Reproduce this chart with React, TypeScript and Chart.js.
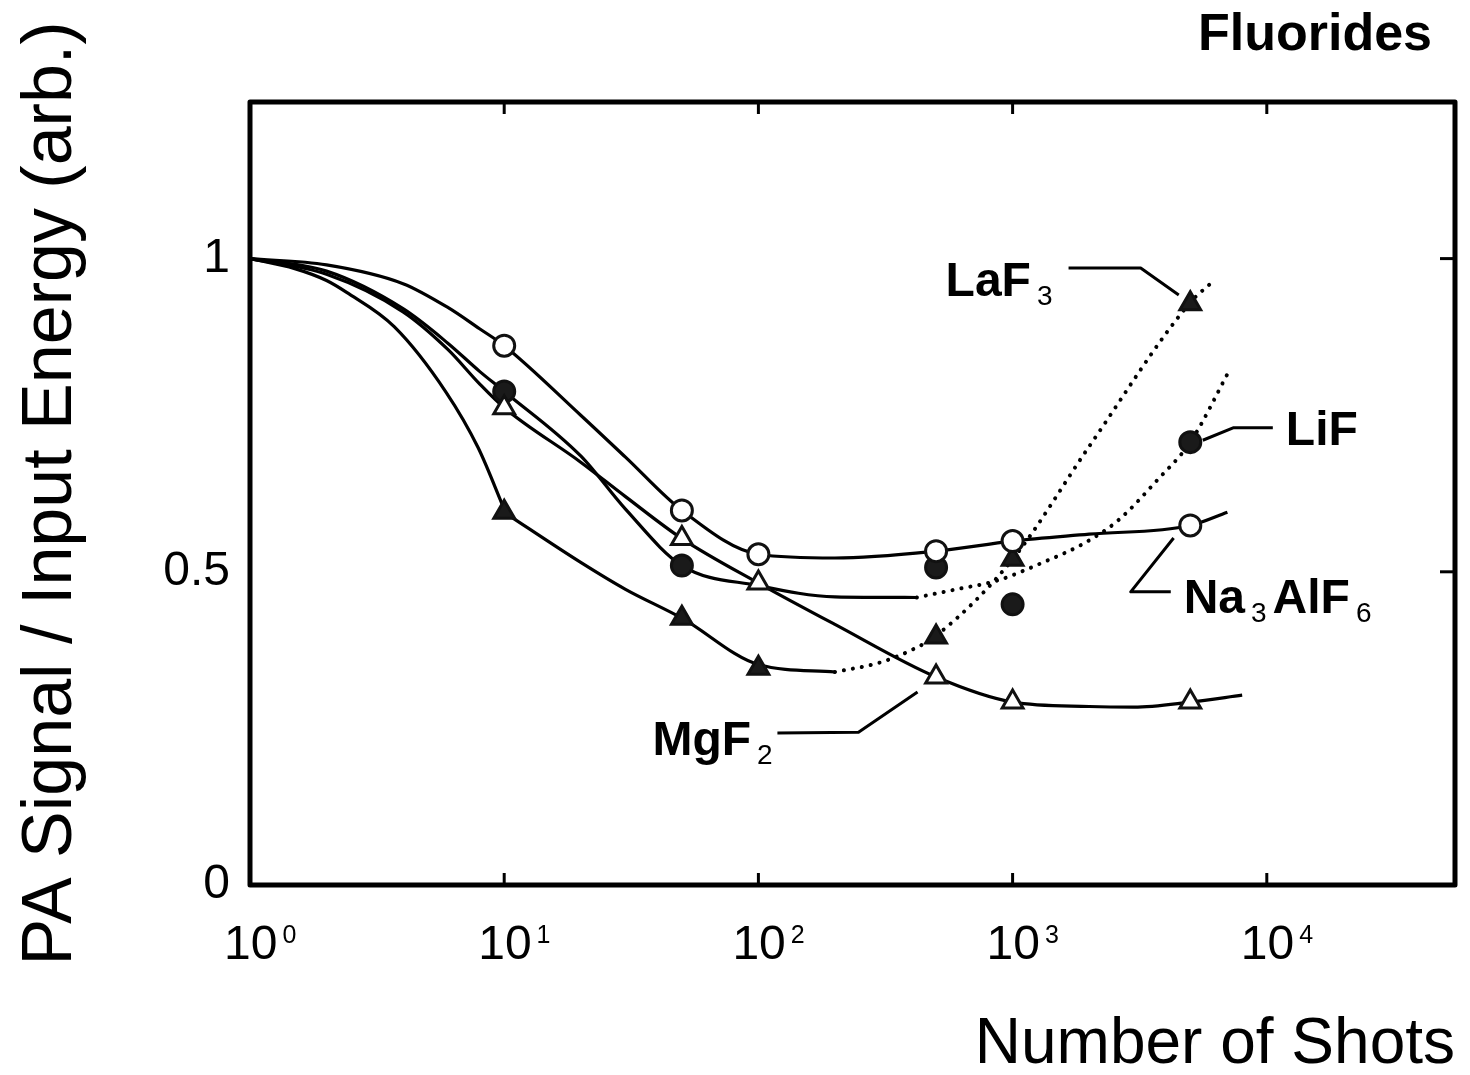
import React, { useEffect, useRef } from 'react';
import { Chart, registerables } from 'chart.js';

Chart.register(...registerables);

const FONT = '"Liberation Sans", Arial, Helvetica, sans-serif';

// ---- axis ticks ----
const xTickValues = [1, 10, 100, 1000, 10000];
const xTickExponents = ['0', '1', '2', '3', '4'];
const yTickValues = [0, 0.5, 1];
const yTickLabels = ['0', '0.5', '1'];

// ---- fitted curves ----
const naCurveX = [1, 2, 4, 6, 8, 10, 20, 30, 50, 100, 200, 500, 1000, 2000, 5000, 7000];
const naCurveY = [1, 0.99, 0.96, 0.922, 0.888, 0.861, 0.75, 0.683, 0.598, 0.528, 0.522, 0.533, 0.549, 0.56, 0.574, 0.595];

const lifSolidX = [1, 2, 4, 6, 8, 10, 20, 30, 50, 100, 200, 420];
const lifSolidY = [1, 0.98, 0.92, 0.865, 0.82, 0.788, 0.685, 0.6, 0.51, 0.478, 0.46, 0.459];
const lifDotX = [420, 600, 870, 1300, 1900, 2600, 3700, 5000, 7200];
const lifDotY = [0.459, 0.472, 0.486, 0.514, 0.545, 0.582, 0.646, 0.707, 0.825];

const mgCurveX = [1, 2, 4, 6, 8, 10, 20, 30, 50, 100, 200, 500, 1000, 2000, 3000, 5000, 8000];
const mgCurveY = [1, 0.975, 0.915, 0.855, 0.8, 0.762, 0.675, 0.62, 0.553, 0.482, 0.416, 0.332, 0.292, 0.285, 0.284, 0.292, 0.303];

const lafEarlyX = [1, 1.5, 2, 2.4, 3.7, 5.9, 7.9, 10];
const lafEarlyY = [1, 0.984, 0.965, 0.946, 0.891, 0.787, 0.698, 0.6];
const lafSolidX = [10, 20, 30, 50, 100, 200];
const lafSolidY = [0.595, 0.515, 0.472, 0.426, 0.352, 0.34];
const lafDotX = [200, 300, 400, 500, 1000, 2000, 5000, 6000];
const lafDotY = [0.34, 0.355, 0.375, 0.398, 0.52, 0.7, 0.93, 0.96];

// ---- measured points ----
const naMarkX = [10, 50, 100, 500, 1000, 5000];
const naMarkY = [0.861, 0.598, 0.528, 0.533, 0.549, 0.574];
const lifMarkX = [10, 50, 500, 1000, 5000];
const lifMarkY = [0.788, 0.51, 0.507, 0.448, 0.707];
const mgMarkX = [10, 50, 100, 500, 1000, 5000];
const mgMarkY = [0.762, 0.553, 0.482, 0.332, 0.292, 0.292];
const lafMarkX = [10, 50, 100, 500, 1000, 5000];
const lafMarkY = [0.595, 0.426, 0.346, 0.396, 0.52, 0.928];

// ---- annotation labels (text parts: [text, isSubscript]) ----
type Ann = { parts: [string, boolean][]; x: number; y: number; leader: [number, number][] };
const annotations: Ann[] = [
  { parts: [['LaF', false], ['3', true]], x: 545, y: 0.941, leader: [[1660, 0.985], [3190, 0.985], [4505, 0.942]] },
  { parts: [['LiF', false]], x: 11880, y: 0.702, leader: [[5600, 0.71], [7410, 0.73], [10560, 0.73]] },
  { parts: [['Na', false], ['3', true], ['AlF', false], ['6', true]], x: 4710, y: 0.434, leader: [[4300, 0.554], [2915, 0.468], [4190, 0.468]] },
  { parts: [['MgF', false], ['2', true]], x: 38.3, y: 0.2075, leader: [[118.8, 0.2427], [247.6, 0.244], [422.7, 0.308]] },
];

const pts = (xs: number[], ys: number[]) => xs.map((x, i) => ({ x, y: ys[i] }));

const curve = (label: string, xs: number[], ys: number[], dotted: boolean) => ({
  label,
  data: pts(xs, ys),
  borderColor: '#000',
  borderWidth: dotted ? 4 : 3.2,
  borderDash: dotted ? [0.1, 9] : [],
  borderCapStyle: dotted ? 'round' : 'butt',
  pointRadius: 0,
  fill: false,
  cubicInterpolationMode: 'monotone',
  order: 2,
});

const markers = (label: string, xs: number[], ys: number[], style: string, filled: boolean) => ({
  label,
  data: pts(xs, ys),
  showLine: false,
  pointStyle: style,
  pointRadius: style === 'triangle' ? 12 : 10.5,
  pointBorderWidth: 3,
  pointBorderColor: '#111',
  pointBackgroundColor: filled ? '#1a1a1a' : '#fff',
  order: 1,
});

const framePlugin = {
  id: 'frameAndLabels',
  afterDraw(chart: any) {
    const { ctx, chartArea: a, scales } = chart;
    const xs = scales.x;
    const ys = scales.y;
    ctx.save();
    ctx.strokeStyle = '#000';
    ctx.fillStyle = '#000';
    ctx.lineJoin = 'round';
    ctx.lineWidth = 5;
    ctx.strokeRect(a.left, a.top, a.right - a.left, a.bottom - a.top);

    const seg = (x1: number, y1: number, x2: number, y2: number) => {
      ctx.beginPath();
      ctx.moveTo(x1, y1);
      ctx.lineTo(x2, y2);
      ctx.stroke();
    };
    ctx.lineWidth = 3;
    xTickValues.slice(1).forEach((v) => {
      const px = xs.getPixelForValue(v);
      seg(px, a.bottom, px, a.bottom - 12);
      seg(px, a.top, px, a.top + 12);
    });
    yTickValues.slice(1).forEach((v) => {
      const py = ys.getPixelForValue(v);
      seg(a.right, py, a.right - 15, py);
    });

    // x tick labels 10^n
    ctx.textBaseline = 'alphabetic';
    ctx.textAlign = 'left';
    xTickValues.forEach((v, i) => {
      const px = xs.getPixelForValue(v);
      ctx.font = `48px ${FONT}`;
      const base = a.bottom + 74;
      const x0 = px - 26;
      ctx.fillText('10', x0, base);
      const w = ctx.measureText('10').width;
      ctx.font = `25px ${FONT}`;
      ctx.fillText(xTickExponents[i], x0 + w + 5, base - 16);
    });

    // Title at top right
    ctx.font = `bold 52px ${FONT}`;
    ctx.textAlign = 'right';
    ctx.fillText('Fluorides', a.right - 23, a.top - 52);

    // Annotations
    ctx.textAlign = 'left';
    annotations.forEach((ann) => {
      let x = xs.getPixelForValue(ann.x);
      const y = ys.getPixelForValue(ann.y);
      ann.parts.forEach(([t, sub]) => {
        if (sub) {
          ctx.font = `28px ${FONT}`;
          x += 6;
          ctx.fillText(t, x, y + 9);
          x += ctx.measureText(t).width + 6;
        } else {
          ctx.font = `bold 48px ${FONT}`;
          ctx.fillText(t, x, y);
          x += ctx.measureText(t).width;
        }
      });
      ctx.lineWidth = 3;
      ctx.beginPath();
      ann.leader.forEach(([lx, ly], i) => {
        const px = xs.getPixelForValue(lx);
        const py = ys.getPixelForValue(ly);
        if (i === 0) ctx.moveTo(px, py);
        else ctx.lineTo(px, py);
      });
      ctx.stroke();
    });
    ctx.restore();
  },
};

export default function App() {
  const ref = useRef<HTMLCanvasElement | null>(null);

  useEffect(() => {
    const canvas = ref.current;
    if (!canvas) return;
    const chart = new Chart(canvas, {
      type: 'line',
      data: {
        datasets: [
          curve('Na3AlF6 fit', naCurveX, naCurveY, false),
          curve('LiF fit', lifSolidX, lifSolidY, false),
          curve('LiF fit (dotted)', lifDotX, lifDotY, true),
          curve('MgF2 fit', mgCurveX, mgCurveY, false),
          curve('LaF3 fit (early)', lafEarlyX, lafEarlyY, false),
          curve('LaF3 fit', lafSolidX, lafSolidY, false),
          curve('LaF3 fit (dotted)', lafDotX, lafDotY, true),
          markers('Na3AlF6', naMarkX, naMarkY, 'circle', false),
          markers('MgF2', mgMarkX, mgMarkY, 'triangle', false),
          markers('LiF', lifMarkX, lifMarkY, 'circle', true),
          markers('LaF3', lafMarkX, lafMarkY, 'triangle', true),
        ] as any,
      },
      options: {
        responsive: false,
        animation: false,
        devicePixelRatio: 1,
        layout: { padding: { top: 102, right: 15, left: 0, bottom: 0 } },
        plugins: { legend: { display: false }, tooltip: { enabled: false } },
        scales: {
          x: {
            type: 'logarithmic',
            min: 1,
            max: 55000,
            grid: { display: false, drawTicks: false },
            border: { display: false },
            ticks: { display: false },
            afterBuildTicks: (s: any) => {
              s.ticks = xTickValues.map((value) => ({ value }));
            },
            afterFit: (s: any) => {
              s.height = 190;
            },
            title: {
              display: true,
              text: 'Number of Shots',
              align: 'end',
              color: '#000',
              font: { family: FONT, size: 64, lineHeight: 0.9 },
              padding: { bottom: 1, top: 0 },
            },
          },
          y: {
            type: 'linear',
            min: 0,
            max: 1.25,
            grid: { display: false, drawTicks: false },
            border: { display: false },
            afterBuildTicks: (s: any) => {
              s.ticks = yTickValues.map((value) => ({ value }));
            },
            ticks: {
              color: '#000',
              padding: 20,
              font: { family: FONT, size: 48 },
              callback: (v: any) => {
                const i = yTickValues.indexOf(Number(v));
                return i >= 0 ? yTickLabels[i] : '';
              },
            },
            afterFit: (s: any) => {
              s.width = 250;
            },
            title: {
              display: true,
              text: 'PA Signal / Input Energy (arb.)',
              color: '#000',
              font: { family: FONT, size: 70, lineHeight: 1 },
              padding: { top: 17, bottom: 0 },
            },
          },
        },
      } as any,
      plugins: [framePlugin],
    });
    return () => chart.destroy();
  }, []);

  return (
    <div style={{ position: 'absolute', left: 0, top: 0, width: 1470, height: 1075, background: '#fff' }}>
      <canvas ref={ref} width={1470} height={1075} style={{ display: 'block' }} />
    </div>
  );
}
